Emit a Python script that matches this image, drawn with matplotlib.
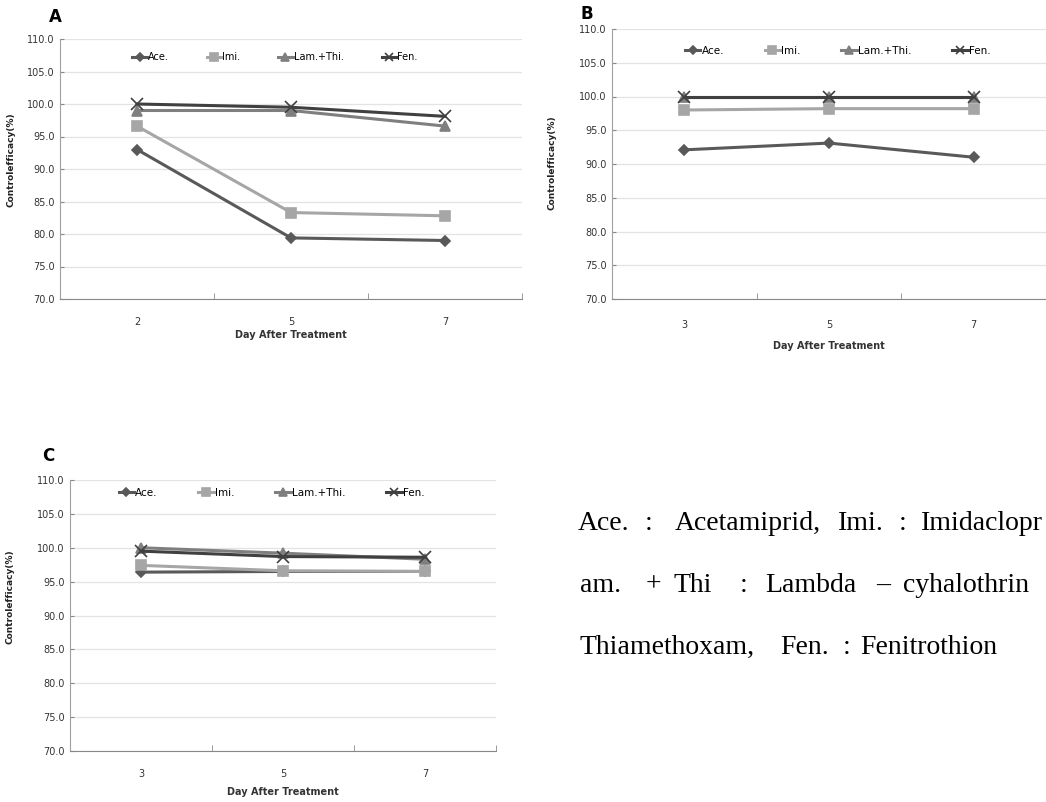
import matplotlib
matplotlib.use("Agg")
import matplotlib.pyplot as plt

# data
series = ["Ace.", "Imi.", "Lam.+Thi.", "Fen."]
days_a = ["2", "5", "7"]
days_bc = ["3", "5", "7"]

a_vals = {
    "Ace.": [93.0, 79.4, 79.0],
    "Imi.": [96.6, 83.3, 82.8],
    "Lam.+Thi.": [99.0, 99.0, 96.6],
    "Fen.": [100.0, 99.5, 98.1],
}
b_vals = {
    "Ace.": [92.1, 93.1, 91.0],
    "Imi.": [98.0, 98.2, 98.2],
    "Lam.+Thi.": [100.0, 100.0, 100.0],
    "Fen.": [100.0, 100.0, 100.0],
}
c_vals = {
    "Ace.": [96.4, 96.5, 96.5],
    "Imi.": [97.4, 96.6, 96.5],
    "Lam.+Thi.": [100.0, 99.2, 98.3],
    "Fen.": [99.5, 98.7, 98.6],
}
yticks = [70, 75, 80, 85, 90, 95, 100, 105, 110]

# note text, split in pieces so the wide spacing of the original is kept
note_lines = [
    ["Ace.", ":", "Acetamiprid,", "Imi.", ":", "Imidaclopr"],
    ["am.", "+", "Thi", ":", "Lambda", "\u2013", "cyhalothrin"],
    ["Thiamethoxam,", "Fen.", ":", "Fenitrothion"],
]
note_x = [
    [578, 645, 675, 838, 899, 921],
    [580, 646, 673, 740, 765, 876, 903],
    [580, 780, 843, 860],
]
note_y = [523, 585, 647]

colors = {"Ace.": "#595959", "Imi.": "#a6a6a6", "Lam.+Thi.": "#7f7f7f", "Fen.": "#404040"}
markers = {"Ace.": "D", "Imi.": "s", "Lam.+Thi.": "^", "Fen.": "x"}
msizes = {"Ace.": 5, "Imi.": 7, "Lam.+Thi.": 7, "Fen.": 8}

W, H = 1046, 802
fig = plt.figure(figsize=(W / 100, H / 100), dpi=100)


def panel(rect, vals, cats, letter, letter_xy, tick_pad, xlabel_pad, leg_xy, leg_fs, ylab_xy):
    ax = fig.add_axes(rect)
    x = list(range(len(cats)))
    for s in series:
        ax.plot(x, vals[s], color=colors[s], marker=markers[s], ms=msizes[s],
                lw=2.2, mew=1.2, label=s, zorder=3)
    ax.set_xlim(-0.5, len(cats) - 0.5)
    ax.set_ylim(70, 110)
    ax.set_yticks(yticks)
    ax.set_yticklabels([f"{v:.1f}" for v in yticks], fontsize=7, color="#333333")
    ax.set_xticks(x)
    ax.set_xticklabels(cats, fontsize=7, color="#333333")
    ax.set_xticks([-0.5, 0.5, 1.5, 2.5], minor=True)
    ax.tick_params(axis="x", which="major", length=0, pad=tick_pad)
    ax.tick_params(axis="x", which="minor", length=4, direction="in", color="#888888")
    ax.tick_params(axis="y", length=3, direction="in", color="#888888", pad=4)
    ax.grid(axis="y", color="#e3e3e3", lw=0.9)
    ax.set_axisbelow(True)
    for side in ["top", "right"]:
        ax.spines[side].set_visible(False)
    ax.spines["left"].set_color("#a0a0a0")
    ax.spines["bottom"].set_color("#888888")
    ax.set_xlabel("Day After Treatment", fontsize=7, fontweight="bold",
                  color="#333333", labelpad=xlabel_pad)
    ax.set_ylabel("Controlefficacy(%)", fontsize=6.5, fontweight="bold", color="#222222")
    ax.yaxis.set_label_coords(*ylab_xy)
    ax.legend(loc="center", bbox_to_anchor=leg_xy, ncol=4, frameon=False,
              fontsize=leg_fs, handlelength=1.5, handletextpad=0.1, columnspacing=3.9,
              markerscale=0.75)
    fig.text(letter_xy[0], letter_xy[1], letter, fontsize=12, fontweight="bold",
             ha="center", va="center")
    return ax


panel([60 / W, 1 - 299 / H, 462 / W, 260 / H], a_vals, days_a, "A",
      (55 / W, 1 - 17 / H), 13, 2, (0.465, 0.931), 7, (-0.097, 0.535))
panel([612 / W, 1 - 299 / H, 434 / W, 270 / H], b_vals, days_bc, "B",
      (587 / W, 1 - 14 / H), 15, 8, (0.52, 0.918), 7.5, (-0.127, 0.504))
panel([70 / W, 1 - 751 / H, 426 / W, 271 / H], c_vals, days_bc, "C",
      (48 / W, 1 - 456 / H), 13, 6, (0.473, 0.952), 7.5, (-0.131, 0.568))

for pieces, xs, y in zip(note_lines, note_x, note_y):
    for piece, x in zip(pieces, xs):
        fig.text(x / W, 1 - y / H, piece, fontsize=20,
                 family="Liberation Serif", va="center", ha="left")

fig.savefig("out.png", dpi=100)
